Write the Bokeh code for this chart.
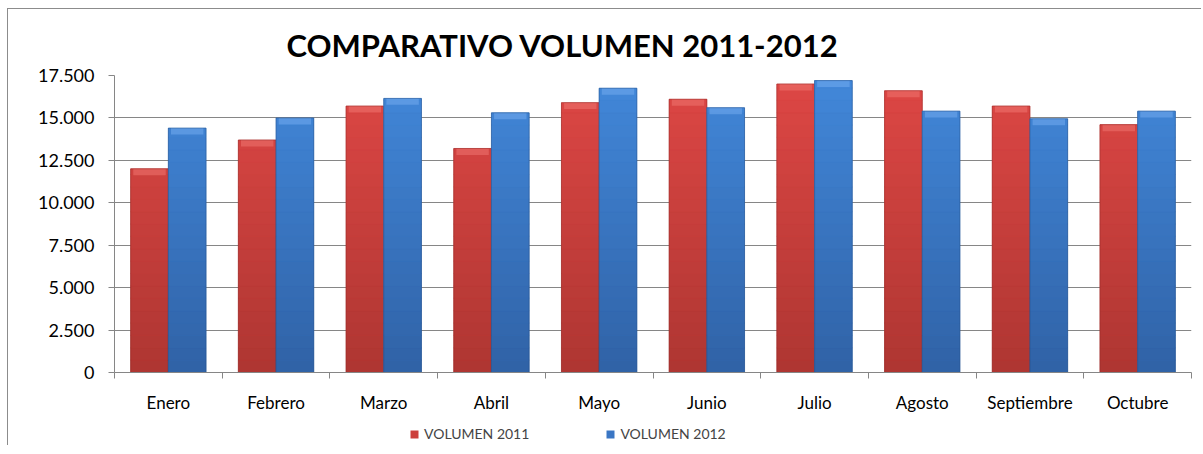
import numpy as np
from bokeh.plotting import figure
from bokeh.layouts import column
from bokeh.models import FixedTicker, Legend, LegendItem, Range1d
from bokeh.embed import file_html
from bokeh.resources import INLINE

months = ["Enero", "Febrero", "Marzo", "Abril", "Mayo", "Junio", "Julio",
          "Agosto", "Septiembre", "Octubre"]
vol_2011 = [12000, 13700, 15700, 13200, 15900, 16100, 17000, 16600, 15700, 14600]
vol_2012 = [14400, 15000, 16150, 15300, 16750, 15600, 17200, 15400, 14950, 15400]
series_names = ["VOLUMEN 2011", "VOLUMEN 2012"]
y_ticks = [0, 2500, 5000, 7500, 10000, 12500, 15000, 17500]
y_tick_labels = ["0", "2.500", "5.000", "7.500", "10.000", "12.500", "15.000", "17.500"]
title_text = "COMPARATIVO VOLUMEN 2011-2012"

FONT = "Lato"
GRID = "#868686"
BORDER = "1px solid #8c8c8c"

p = figure(width=1194, height=406, output_backend="svg", toolbar_location=None,
           x_range=(0, len(months)), y_range=(0, 17500),
           min_border_left=106, min_border_right=11, min_border_top=66,
           min_border_bottom=43, tools="",
           styles={"border-left": BORDER, "border-top": BORDER,
                   "margin-left": "7px", "margin-top": "8px"})
p.outline_line_color = None
p.xgrid.grid_line_color = None
p.ygrid.grid_line_color = GRID
p.ygrid.ticker = FixedTicker(ticks=y_ticks)

p.title.text = title_text
p.title.text_font = FONT
p.title.text_font_style = "bold"
p.title.text_font_size = "31px"
p.title.align = "left"
p.title.offset = 172
p.title.standoff = 23
p.title.text_color = "#000000"

# axes
p.yaxis.ticker = FixedTicker(ticks=y_ticks)
p.yaxis.major_label_overrides = {t: l for t, l in zip(y_ticks, y_tick_labels)}
p.yaxis.minor_tick_line_color = None
p.yaxis.major_tick_in = 0
p.yaxis.major_tick_out = 6
p.yaxis.axis_line_color = GRID
p.yaxis.major_tick_line_color = GRID
p.yaxis.major_label_text_font = FONT
p.yaxis.major_label_text_font_size = "18px"
p.yaxis.major_label_text_color = "#000000"
p.yaxis.major_label_standoff = 14

centers = np.arange(len(months)) + 0.5
p.xaxis.ticker = FixedTicker(ticks=list(centers), minor_ticks=list(range(len(months) + 1)))
p.xaxis.major_label_overrides = {float(c): m for c, m in zip(centers, months)}
p.xaxis.major_tick_in = 0
p.xaxis.major_tick_out = 0
p.xaxis.minor_tick_in = 0
p.xaxis.minor_tick_out = 6
p.xaxis.minor_tick_line_color = GRID
p.xaxis.axis_line_color = GRID
p.xaxis.major_label_text_font = FONT
p.xaxis.major_label_text_font_size = "17px"
p.xaxis.major_label_text_color = "#000000"
p.xaxis.major_label_standoff = 13

bar_w = 0.35
offsets = [-0.175, 0.175]
top_cols = [np.array([0xDE, 0x47, 0x45]), np.array([0x42, 0x88, 0xDA])]
bot_cols = [np.array([0xAE, 0x36, 0x32]), np.array([0x30, 0x62, 0xA6])]
mid_cols = ["#CC3F3C", "#3A76C4"]
cap_cols = ["#EE7470", "#72ACEE"]
edge_cols = ["#8E2A27", "#254F88"]

# small strip below the chart that carries the legend
p2 = figure(width=1194, height=31, output_backend="svg", toolbar_location=None,
            x_range=p.x_range, y_range=Range1d(500000, 600000), tools="",
            min_border_left=0, min_border_right=0, min_border_top=0, min_border_bottom=0,
            styles={"border-left": BORDER, "margin-left": "7px"})
p2.axis.visible = False
p2.grid.visible = False
p2.outline_line_color = None

edges = np.linspace(0, 17500, 25)
items = []
for s, vals in enumerate([vol_2011, vol_2012]):
    vals = np.array(vals, dtype=float)
    x = centers + offsets[s]
    p.vbar(x=x, top=vals, bottom=0, width=bar_w, fill_color=mid_cols[s], line_color=None)
    for k in range(len(edges) - 1):
        mask = vals > edges[k]
        if not mask.any():
            continue
        frac = (edges[k] + edges[k + 1]) / 2 / 17500
        c = bot_cols[s] + (top_cols[s] - bot_cols[s]) * frac
        col = "#%02x%02x%02x" % tuple(int(round(v)) for v in c)
        p.vbar(x=x[mask], bottom=edges[k], top=np.minimum(vals[mask], edges[k + 1]),
               width=bar_w, fill_color=col, line_color=col, line_width=0.5)
    # bevel cap
    p.vbar(x=x, top=vals, bottom=vals - 380, width=bar_w * 0.86, fill_color=cap_cols[s],
           line_color=None, fill_alpha=0.55)
    p.vbar(x=x, top=vals, bottom=0, width=bar_w, fill_color=None,
           line_color=edge_cols[s], line_alpha=0.45, line_width=1)
    # legend proxy (same series, far outside the strip's visible y range)
    proxy = p2.vbar(x=x, top=vals, bottom=0, width=bar_w, fill_color=mid_cols[s],
                    line_color=None)
    items.append(LegendItem(label=series_names[s], renderers=[proxy]))

legend = Legend(items=items, orientation="horizontal", location=(295, 3),
                glyph_width=10, glyph_height=10, label_text_font=FONT,
                label_text_font_size="14px", label_height=14, label_standoff=5,
                spacing=76, padding=0, margin=0,
                border_line_color=None, background_fill_alpha=0)
p2.add_layout(legend, "center")

layout = column(p, p2, spacing=0)
open("out.html", "w").write(file_html(layout, INLINE))
